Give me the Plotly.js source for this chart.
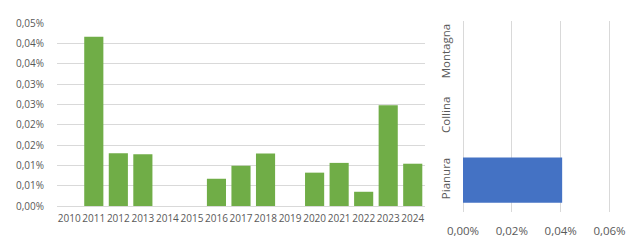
<!DOCTYPE html>
<html><head><meta charset="utf-8">
<script src="https://cdn.plot.ly/plotly-3.0.1.min.js"></script>
<style>html,body{margin:0;padding:0;background:#fff}#c{width:630px;height:240px}</style>
</head><body><div id="c"></div>
<script>
const years = ['2010','2011','2012','2013','2014','2015','2016','2017','2018','2019','2020','2021','2022','2023','2024'];
const yearValues = [null,0.000416,0.000130,0.000127,null,null,0.000067,0.000099,0.000129,null,0.000082,0.000106,0.000035,0.000248,0.000104];
const yTickVals = [0,0.00005,0.0001,0.00015,0.0002,0.00025,0.0003,0.00035,0.0004,0.00045];
const yTickText = ['0,00%','0,01%','0,01%','0,02%','0,02%','0,03%','0,03%','0,04%','0,04%','0,05%'];
const zones = ['Pianura','Collina','Montagna'];
const zoneValues = [0.000406,null,null];
const xTickVals = [0,0.0002,0.0004,0.0006];
const xTickText = ['0,00%','0,02%','0,04%','0,06%'];

const font = {family:'"Open Sans", "Noto Sans", sans-serif', size:10, color:'#595959'};
const font2 = {family:'"Open Sans", "Noto Sans", sans-serif', size:11.5, color:'#595959'};
const grid = '#D9D9D9';
const W=630,H=240;
const data = [
 {type:'bar', x:years, y:yearValues, marker:{color:'#70AD47'}, xaxis:'x', yaxis:'y', hoverinfo:'none'},
 {type:'bar', orientation:'h', y:zones, x:zoneValues, width:0.71, marker:{color:'#4472C4'}, xaxis:'x2', yaxis:'y2', hoverinfo:'none'}
];
const layout = {
 width:W, height:H, margin:{l:0,r:0,t:0,b:0}, showlegend:false, font:font,
 paper_bgcolor:'#fff', plot_bgcolor:'#fff', bargap:0.22,
 xaxis:{domain:[57/W,425/W], type:'category', showgrid:false, showline:true, linecolor:grid, linewidth:1,
   tickangle:0, ticks:'outside', ticklen:3, tickcolor:'rgba(0,0,0,0)', tickfont:font, anchor:'y', fixedrange:true},
 yaxis:{domain:[1-206/H,1-23/H], range:[0,0.00045], tickvals:yTickVals, ticktext:yTickText,
   showgrid:true, gridcolor:grid, zeroline:false, ticks:'outside', ticklen:10, tickcolor:'rgba(0,0,0,0)',
   tickfont:font, anchor:'x'},
 xaxis2:{domain:[463/W,611/W], range:[0,0.000606], tickvals:xTickVals, ticktext:xTickText,
   showgrid:true, gridcolor:grid, zeroline:true, zerolinecolor:grid, zerolinewidth:1, showline:false,
   ticks:'outside', ticklen:8, tickcolor:'rgba(0,0,0,0)', tickangle:0,
   tickfont:font2, anchor:'y2'},
 yaxis2:{domain:[1-212/H,1-21/H], type:'category', categoryarray:zones, showgrid:false, zeroline:false,
   tickangle:-90, ticks:'outside', ticklen:7, tickcolor:'rgba(0,0,0,0)', tickfont:font2, anchor:'x2'}
};
Plotly.newPlot('c', data, layout, {staticPlot:true});
</script></body></html>
